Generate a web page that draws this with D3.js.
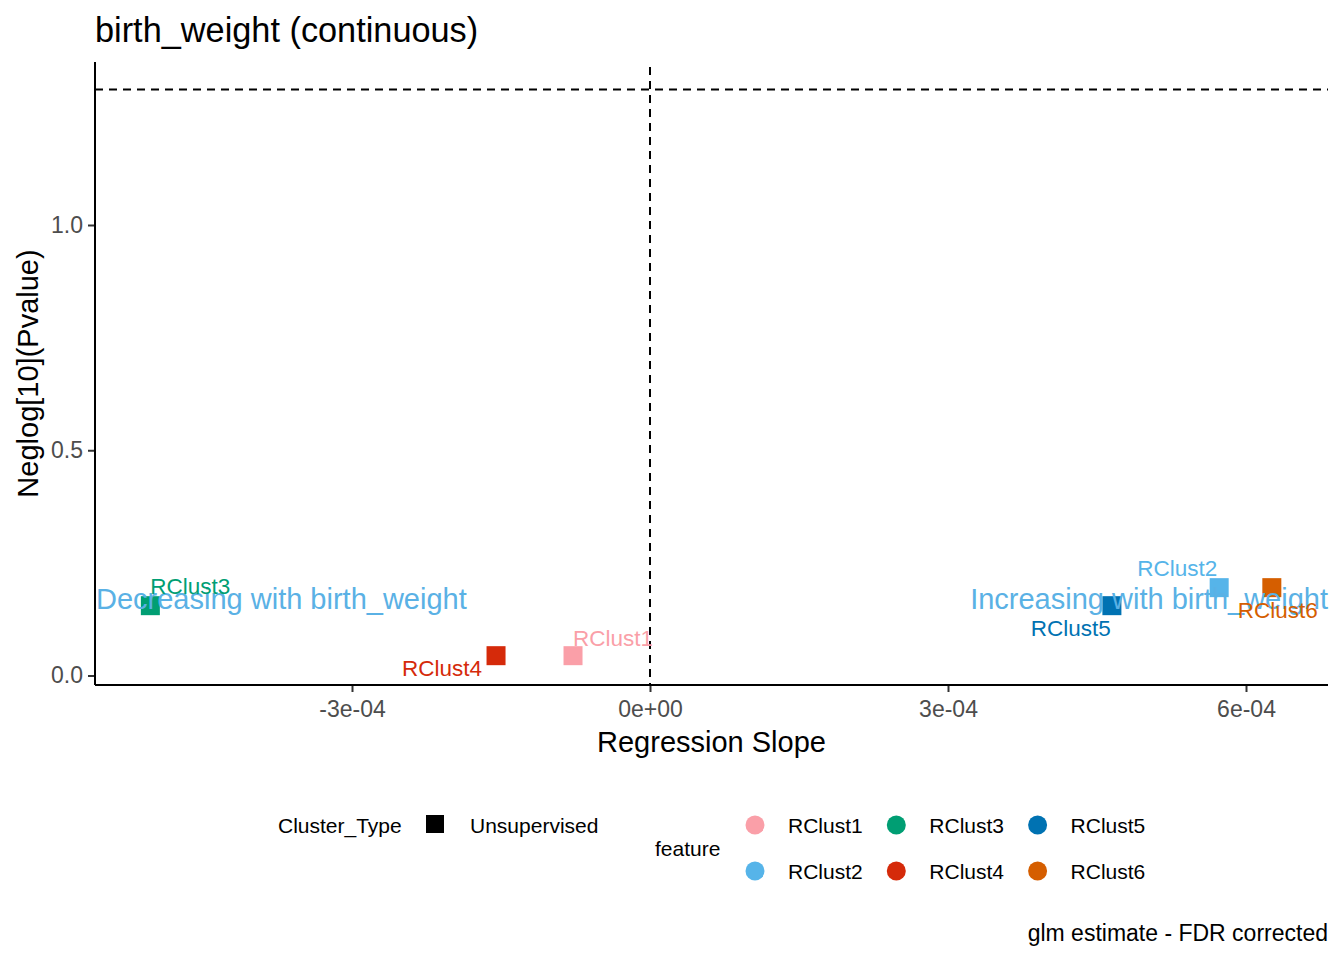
<!DOCTYPE html>
<html>
<head>
<meta charset="utf-8">
<script src="https://cdn.jsdelivr.net/npm/d3@7"></script>
<style>
  body { margin: 0; background: #fff; }
  text { font-family: "Liberation Sans", Arial, sans-serif; }
</style>
</head>
<body>
<svg id="chart" width="1344" height="960"></svg>
<script>
// data
var features = ["RClust1", "RClust2", "RClust3", "RClust4", "RClust5", "RClust6"];
var slopes = [-0.0000775, 0.000573, -0.000503, -0.000155, 0.000465, 0.000626];
var neglogP = [0.044, 0.195, 0.155, 0.044, 0.155, 0.195];
var featureColors = ["#FA9FA8", "#56B4E9", "#009E73", "#D52A0A", "#0072B2", "#D55E00"];
var xTicks = [-0.0003, 0, 0.0003, 0.0006];
var xTickLabels = ["-3e-04", "0e+00", "3e-04", "6e-04"];
var yTicks = [0, 0.5, 1.0];
var yTickLabels = ["0.0", "0.5", "1.0"];
var clusterTypes = ["Unsupervised"];
var pThreshold = 0.05;

// label nudges (ggrepel-ish placement), pixels
var labelNudge = {
  RClust1: { dx: 0, dy: -10, anchor: "start" },
  RClust2: { dx: -2, dy: -12, anchor: "end" },
  RClust3: { dx: 0, dy: -12, anchor: "start" },
  RClust4: { dx: -14, dy: 20, anchor: "end" },
  RClust5: { dx: -1, dy: 30, anchor: "end" },
  RClust6: { dx: 6, dy: 30, anchor: "middle" }
};

var svg = d3.select("#chart");
var plotLeft = 95, plotRight = 1328, plotTop = 62, plotBottom = 685;

var x = d3.scaleLinear().domain([-0.0003, 0.0003]).range([352, 948]);
var y = d3.scaleLinear().domain([0, 1.0]).range([675.5, 225]);

var points = features.map(function(f, i) {
  return { feature: f, slope: slopes[i], p: neglogP[i], color: featureColors[i] };
});

// title
svg.append("text")
  .attr("x", 95).attr("y", 42)
  .attr("font-size", 34.3)
  .attr("fill", "#000")
  .text("birth_weight (continuous)");

// reference lines
svg.append("line")
  .attr("x1", plotLeft).attr("x2", plotRight)
  .attr("y1", y(-Math.log10(pThreshold))).attr("y2", y(-Math.log10(pThreshold)))
  .attr("stroke", "#000").attr("stroke-width", 2)
  .attr("stroke-dasharray", "8,6");

svg.append("line")
  .attr("x1", x(0)).attr("x2", x(0))
  .attr("y1", plotTop + 5).attr("y2", plotBottom)
  .attr("stroke", "#000").attr("stroke-width", 2)
  .attr("stroke-dasharray", "8,6");

// axes
var xAxis = d3.axisBottom(x)
  .tickValues(xTicks)
  .tickFormat(function(d, i) { return xTickLabels[i]; })
  .tickSize(7).tickPadding(9);

var gx = svg.append("g").attr("transform", "translate(0," + plotBottom + ")").call(xAxis);
gx.select(".domain").remove();
gx.append("line").attr("x1", plotLeft).attr("x2", plotRight).attr("y1", 0).attr("y2", 0)
  .attr("stroke", "#000").attr("stroke-width", 2);
gx.selectAll(".tick line").attr("stroke", "#333").attr("stroke-width", 2);
gx.selectAll(".tick text").attr("fill", "#4D4D4D").attr("font-size", 23)
  .attr("font-family", "Liberation Sans, Arial, sans-serif");

var yAxis = d3.axisLeft(y)
  .tickValues(yTicks)
  .tickFormat(function(d, i) { return yTickLabels[i]; })
  .tickSize(7).tickPadding(5);

var gy = svg.append("g").attr("transform", "translate(" + plotLeft + ",0)").call(yAxis);
gy.select(".domain").remove();
gy.append("line").attr("x1", 0).attr("x2", 0).attr("y1", plotTop).attr("y2", plotBottom)
  .attr("stroke", "#000").attr("stroke-width", 2);
gy.selectAll(".tick line").attr("stroke", "#333").attr("stroke-width", 2);
gy.selectAll(".tick text").attr("fill", "#4D4D4D").attr("font-size", 23)
  .attr("font-family", "Liberation Sans, Arial, sans-serif");

// axis titles
svg.append("text")
  .attr("x", (plotLeft + plotRight) / 2).attr("y", 752)
  .attr("text-anchor", "middle").attr("font-size", 29)
  .text("Regression Slope");

svg.append("text")
  .attr("transform", "translate(38," + ((plotTop + plotBottom) / 2) + ") rotate(-90)")
  .attr("text-anchor", "middle").attr("font-size", 29)
  .text("Neglog[10](Pvalue)");

// points
svg.append("g").selectAll("rect")
  .data(points)
  .join("rect")
  .attr("x", function(d) { return x(d.slope) - 9.5; })
  .attr("y", function(d) { return y(d.p) - 9.5; })
  .attr("width", 19).attr("height", 19)
  .attr("fill", function(d) { return d.color; });

// direction annotations
svg.append("text")
  .attr("x", plotLeft + 1).attr("y", y(0.17)).attr("dy", "0.35em")
  .attr("font-size", 29).attr("fill", "#5AB1E5")
  .text("Decreasing with birth_weight");

svg.append("text")
  .attr("x", plotRight).attr("y", y(0.17)).attr("dy", "0.35em")
  .attr("text-anchor", "end")
  .attr("font-size", 29).attr("fill", "#5AB1E5")
  .text("Increasing with birth_weight");

// point labels
svg.append("g").selectAll("text")
  .data(points)
  .join("text")
  .attr("x", function(d) { return x(d.slope) + labelNudge[d.feature].dx; })
  .attr("y", function(d) { return y(d.p) + labelNudge[d.feature].dy; })
  .attr("text-anchor", function(d) { return labelNudge[d.feature].anchor; })
  .attr("font-size", 22.5)
  .attr("fill", function(d) { return d.color; })
  .text(function(d) { return d.feature; });

// legend: Cluster_Type
var leg1 = svg.append("g");
leg1.append("text").attr("x", 278).attr("y", 833).attr("font-size", 21).text("Cluster_Type");
leg1.selectAll("rect").data(clusterTypes).join("rect")
  .attr("x", 426).attr("y", 815).attr("width", 18).attr("height", 18).attr("fill", "#000");
leg1.selectAll("text.lab").data(clusterTypes).join("text")
  .attr("class", "lab")
  .attr("x", 470).attr("y", 833).attr("font-size", 21)
  .text(function(d) { return d; });

// legend: feature
var leg2 = svg.append("g");
leg2.append("text").attr("x", 655).attr("y", 856).attr("font-size", 21).text("feature");
var items = leg2.selectAll("g.item")
  .data(points)
  .join("g")
  .attr("class", "item")
  .attr("transform", function(d, i) {
    var col = Math.floor(i / 2), row = i % 2;
    return "translate(" + (755 + col * 141.3) + "," + (825 + row * 46) + ")";
  });
items.append("circle").attr("r", 9.5).attr("fill", function(d) { return d.color; });
items.append("text").attr("x", 33).attr("y", 8).attr("font-size", 21)
  .text(function(d) { return d.feature; });

// caption
svg.append("text")
  .attr("x", plotRight).attr("y", 941)
  .attr("text-anchor", "end").attr("font-size", 23)
  .text("glm estimate - FDR corrected");
</script>
</body>
</html>
